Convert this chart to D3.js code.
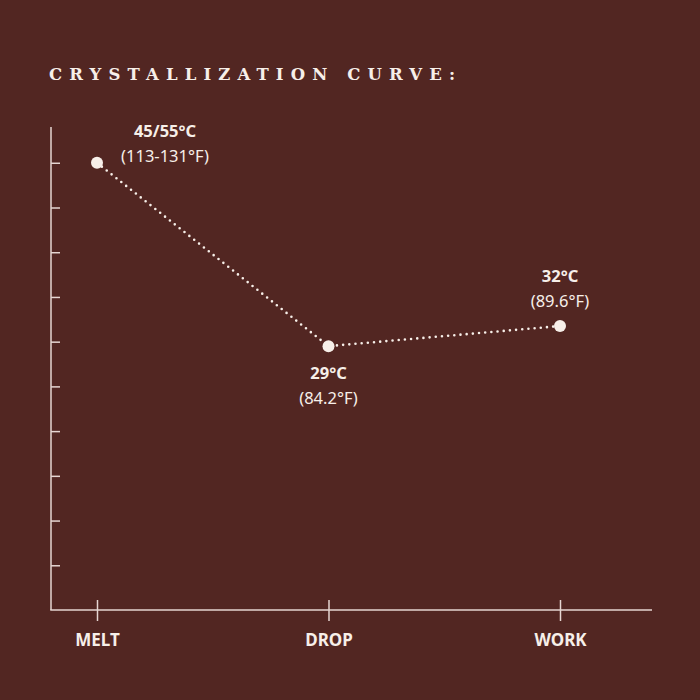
<!DOCTYPE html>
<html><head><meta charset="utf-8">
<script src="https://cdn.jsdelivr.net/npm/d3@7"></script>
<style>html,body{margin:0;padding:0;background:#522622;}</style>
</head><body>
<svg id="c" width="700" height="700"></svg>
<script>
const stages = ["MELT", "DROP", "WORK"];
const levels = [10, 5.9, 6.35];           // position on the chart's 0–10 scale
const tempC = ["45/55°C", "29°C", "32°C"];
const tempF = ["(113-131°F)", "(84.2°F)", "(89.6°F)"];
const yTicks = [1,2,3,4,5,6,7,8,9,10];
const title = "CRYSTALLIZATION CURVE:";

const bg = "#522622", ink = "#f7efe9", axisCol = "#e6d6d2";
const svg = d3.select("#c");
svg.append("rect").attr("width",700).attr("height",700).attr("fill",bg);

const x = d3.scalePoint().domain(stages).range([97, 560]);
const y = d3.scaleLinear().domain([0, 10.8]).range([610, 127]);

const t = svg.append("text").attr("x",49).attr("y",80)
  .attr("font-family","'DejaVu Serif', 'Liberation Serif', serif").attr("font-weight","bold").attr("font-size",16.5)
  .attr("fill",ink).text(title);
// fit title to reference span (49 → 455)
{
  const n = title.length;
  t.attr("letter-spacing", 0);
  const w = t.node().getComputedTextLength();
  const ls = (406 - w) / (n - 1);
  t.attr("letter-spacing", ls);
}

// y axis
const ya = svg.append("g").attr("transform","translate(51,0)")
  .call(d3.axisRight(y).tickValues(yTicks).tickSize(9).tickFormat(""));
ya.select(".domain").remove();
ya.selectAll("line").attr("stroke",axisCol).attr("stroke-width",1.5);
svg.append("line").attr("x1",51).attr("x2",51).attr("y1",y(10.8)).attr("y2",y(0))
  .attr("stroke",axisCol).attr("stroke-width",1.5);

// x axis
svg.append("line").attr("x1",50.25).attr("x2",652).attr("y1",y(0)).attr("y2",y(0))
  .attr("stroke",axisCol).attr("stroke-width",1.5);
const xa = svg.append("g").attr("transform",`translate(0,${y(0)-10})`)
  .call(d3.axisBottom(x).tickSize(21).tickPadding(14));
xa.select(".domain").remove();
xa.selectAll("line").attr("stroke",axisCol).attr("stroke-width",1.5);
xa.selectAll("text").attr("font-family","Noto Sans").attr("font-weight","bold")
  .attr("font-size",17).attr("fill",ink).attr("dy",0).attr("y",46);

const pts = stages.map((s,i)=>({s, v:levels[i], c:tempC[i], f:tempF[i]}));

svg.append("path").datum(pts)
  .attr("d", d3.line().x(d=>x(d.s)).y(d=>y(d.v)))
  .attr("fill","none").attr("stroke",ink).attr("stroke-width",2.6)
  .attr("stroke-linecap","round").attr("stroke-dasharray","0 6.2");

svg.selectAll("circle.p").data(pts).join("circle")
  .attr("cx",d=>x(d.s)).attr("cy",d=>y(d.v)).attr("r",6).attr("fill",ink);

// labels: offsets relative to the points
const off = [{dx:68, dy:-26}, {dx:0, dy:33}, {dx:0, dy:-44}];
const lab = svg.selectAll("g.lab").data(pts).join("g")
  .attr("transform",(d,i)=>`translate(${x(d.s)+off[i].dx},${y(d.v)+off[i].dy})`);
lab.append("text").attr("text-anchor","middle").attr("font-family","Noto Sans")
  .attr("font-weight","bold").attr("font-size",16.5).attr("fill",ink).text(d=>d.c);
lab.append("text").attr("text-anchor","middle").attr("y",25).attr("font-family","Noto Sans")
  .attr("font-size",16.5).attr("fill",ink).text(d=>d.f);
</script>
</body></html>
